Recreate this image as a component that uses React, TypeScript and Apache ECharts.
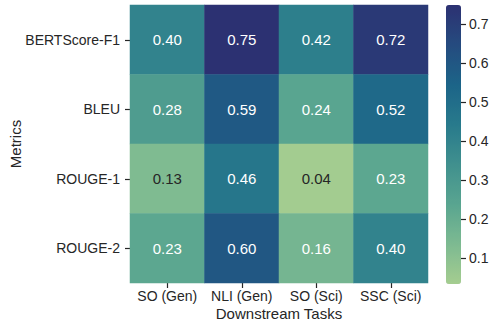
import React, { useEffect, useRef } from "react";
import * as echarts from "echarts";

const tasks = ["SO (Gen)", "NLI (Gen)", "SO (Sci)", "SSC (Sci)"];
const metrics = ["BERTScore-F1", "BLEU", "ROUGE-1", "ROUGE-2"];
const bertscore = [0.40, 0.75, 0.42, 0.72];
const bleu = [0.28, 0.59, 0.24, 0.52];
const rouge1 = [0.13, 0.46, 0.04, 0.23];
const rouge2 = [0.23, 0.60, 0.16, 0.40];
const colorbarTicks = [0.1, 0.2, 0.3, 0.4, 0.5, 0.6, 0.7];
const crest = ["#a5cd90", "#7dba91", "#59a590", "#40908e", "#287a8c", "#1c6488", "#254b7f", "#2c3172"];
const vmin = 0.034;
const vmax = 0.75;

const FONT = "'Liberation Sans', Arial, sans-serif";
const TXT = "#262626";

export default function App() {
  const ref = useRef<HTMLDivElement>(null);
  useEffect(() => {
    if (!ref.current) return;
    const chart = echarts.init(ref.current, undefined, { renderer: "svg" });
    const rows = [bertscore, bleu, rouge1, rouge2];
    const data: any[] = [];
    rows.forEach((row, yi) => {
      row.forEach((v, xi) => {
        data.push({
          value: [xi, yi, v],
          label: { color: v < 0.15 ? "#262626" : "#ffffff" },
        });
      });
    });
    chart.setOption({
      animation: false,
      textStyle: { fontFamily: FONT },
      grid: [
        { left: 130, right: 65, top: 5, bottom: 40, outerBoundsMode: "none", containLabel: false },
        { left: 446, width: 15, top: 5, height: 279, outerBoundsMode: "none", containLabel: false },
      ],
      xAxis: [
        {
          type: "category",
          data: tasks,
          gridIndex: 0,
          axisLine: { show: false },
          axisTick: { show: true, alignWithLabel: true, length: 5, lineStyle: { color: TXT, width: 1.2 } },
          axisLabel: { color: TXT, fontSize: 14, margin: 6, interval: 0, fontFamily: FONT },
          splitArea: { show: false },
          name: "Downstream Tasks",
          nameLocation: "middle",
          nameGap: 23,
          nameMoveOverlap: false,
          nameTextStyle: { color: TXT, fontSize: 15, fontFamily: FONT },
        },
        { type: "category", data: [""], gridIndex: 1, show: false },
      ],
      yAxis: [
        {
          type: "category",
          data: metrics,
          inverse: true,
          gridIndex: 0,
          axisLine: { show: false },
          axisTick: { show: true, alignWithLabel: true, length: 5, lineStyle: { color: TXT, width: 1.2 } },
          axisLabel: { color: TXT, fontSize: 14, margin: 10, interval: 0, fontFamily: FONT },
          splitArea: { show: false },
          name: "Metrics",
          nameLocation: "middle",
          nameRotate: 90,
          nameGap: 107,
          nameMoveOverlap: false,
          nameTextStyle: { color: TXT, fontSize: 15, fontFamily: FONT },
        },
        {
          type: "value",
          gridIndex: 1,
          position: "right",
          min: vmin,
          max: vmax,
          splitLine: { show: false },
          axisLine: { show: false },
          axisTick: { show: true, length: 5, customValues: colorbarTicks, lineStyle: { color: TXT, width: 1.2 } },
          axisLabel: {
            color: TXT,
            fontSize: 14,
            margin: 8,
            fontFamily: FONT,
            customValues: colorbarTicks,
            formatter: (v: number) => v.toFixed(1),
          },
        },
      ],
      visualMap: {
        type: "continuous",
        min: vmin,
        max: vmax,
        dimension: 2,
        seriesIndex: 0,
        calculable: false,
        show: true,
        left: 446,
        top: 5,
        itemWidth: 15,
        itemHeight: 279,
        padding: 0,
        text: null,
        inRange: { color: crest },
      },
      series: [
        {
          type: "heatmap",
          xAxisIndex: 0,
          yAxisIndex: 0,
          data,
          label: {
            show: true,
            fontSize: 15,
            fontFamily: FONT,
            formatter: (p: any) => p.value[2].toFixed(2),
          },
          itemStyle: { borderWidth: 0 },
          emphasis: { disabled: true },
        },
        {
          type: "scatter",
          xAxisIndex: 1,
          yAxisIndex: 1,
          data: [],
        },
      ],
    });
    return () => chart.dispose();
  }, []);
  return <div ref={ref} style={{ width: 493, height: 323, position: "absolute", left: 0, top: 0 }} />;
}
